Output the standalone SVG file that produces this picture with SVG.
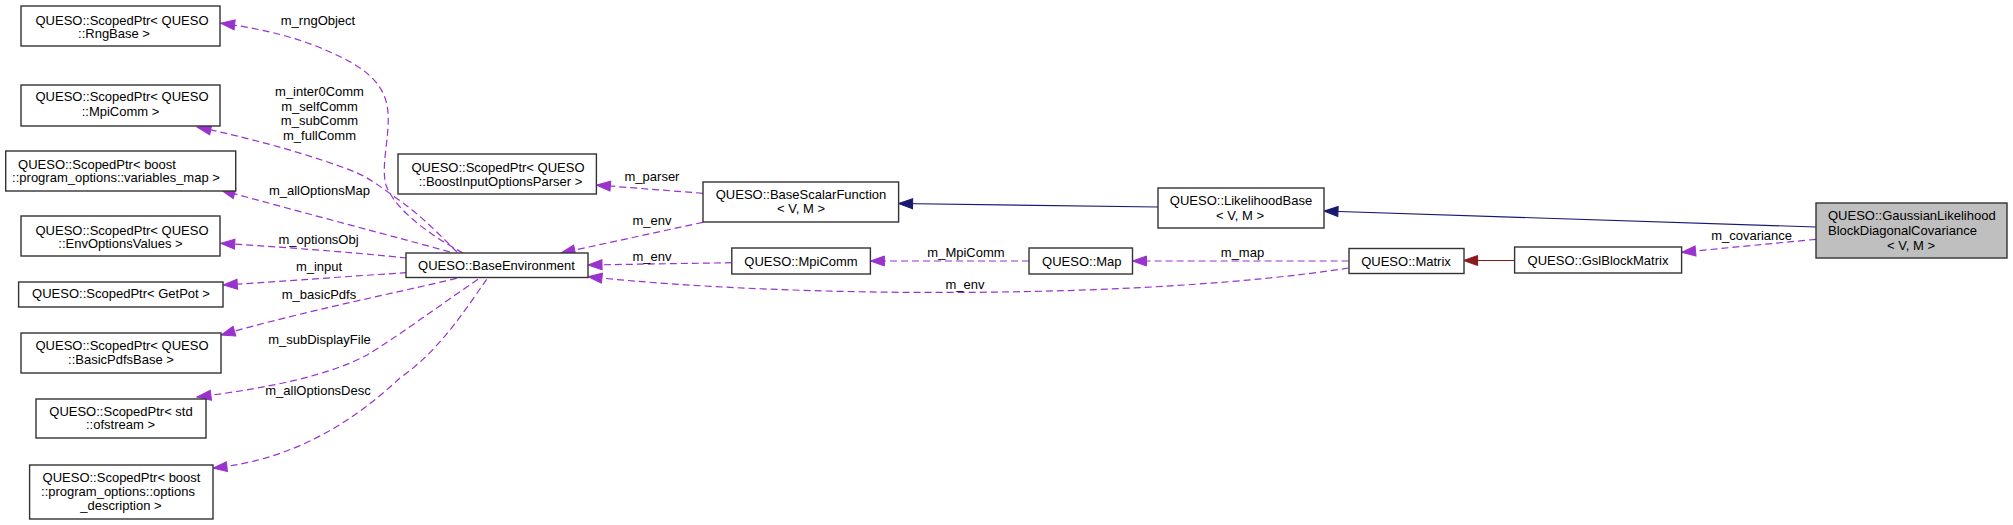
<svg xmlns="http://www.w3.org/2000/svg" width="2013" height="525" viewBox="0 0 2013 525">
<style>
.n rect{fill:#fff;stroke:#333;stroke-width:1.4}
.n rect.focus{fill:#bfbfbf}
text{font-family:"Liberation Sans",Arial,Helvetica,sans-serif;font-size:13px;fill:#000}
.m{text-anchor:middle}
.use{fill:none;stroke:#9a32cd;stroke-width:1.2;stroke-dasharray:7,4}
.pub{fill:none;stroke:#191970;stroke-width:1.2}
.pro{fill:none;stroke:#8b1a1a;stroke-width:1.2}
</style>
<defs>
<marker id="ap" markerWidth="14" markerHeight="10" refX="14" refY="5" orient="auto" markerUnits="userSpaceOnUse" overflow="visible"><path d="M0,0 L14,5 L0,10 z" fill="#9a32cd" stroke="#9a32cd" stroke-width="1"/></marker>
<marker id="ab" markerWidth="14" markerHeight="10" refX="14" refY="5" orient="auto" markerUnits="userSpaceOnUse" overflow="visible"><path d="M0,0 L14,5 L0,10 z" fill="#191970" stroke="#191970" stroke-width="1"/></marker>
<marker id="ar" markerWidth="14" markerHeight="10" refX="14" refY="5" orient="auto" markerUnits="userSpaceOnUse" overflow="visible"><path d="M0,0 L14,5 L0,10 z" fill="#8b1a1a" stroke="#8b1a1a" stroke-width="1"/></marker>
</defs>
<rect x="0" y="0" width="2013" height="525" fill="#fff"/>

<g id="connectors">
<path class="pub" d="M1816,227 L1324,211" marker-end="url(#ab)"/>
<path class="pub" d="M1158,207 L898.6,203.5" marker-end="url(#ab)"/>
<path class="pro" d="M1514.6,260.5 L1463.6,260.5" marker-end="url(#ar)"/>
<path class="use" d="M1816,239.3 L1681.6,252.3" marker-end="url(#ap)"/>
<path class="use" d="M1348.6,261 L1132.5,261" marker-end="url(#ap)"/>
<path class="use" d="M1029,261 L870.4,261" marker-end="url(#ap)"/>
<path class="use" d="M731.8,262.7 L588,265" marker-end="url(#ap)"/>
<path class="use" d="M1348.6,268 C1150,299 800,299 588,276.7" marker-end="url(#ap)"/>
<path class="use" d="M703,222.3 L561,253" marker-end="url(#ap)"/>
<path class="use" d="M703,193.3 L596.4,185" marker-end="url(#ap)"/>
<path class="use" d="M463,253 C430,235 395,210 386,185 C380,165 392,130 387,105 C382,80 360,65 330,52 C300,38 260,28 220.7,23.3" marker-end="url(#ap)"/>
<path class="use" d="M457,252 C440,235 420,215 403,203 C385,190 370,178 355,172 C320,158 260,140 197,127" marker-end="url(#ap)"/>
<path class="use" d="M450,252 C400,238 300,212 221,190" marker-end="url(#ap)"/>
<path class="use" d="M406.7,258 C350,252 280,247 220.7,243.3" marker-end="url(#ap)"/>
<path class="use" d="M406.7,272.7 C350,276 290,281 223.3,285" marker-end="url(#ap)"/>
<path class="use" d="M456.7,278.3 C400,292 300,312 221,335" marker-end="url(#ap)"/>
<path class="use" d="M478,279.3 C440,305 400,335 367,355 C330,375 270,388 197,397" marker-end="url(#ap)"/>
<path class="use" d="M486.7,279.3 C465,310 440,350 400,378 C355,420 295,460 213,468" marker-end="url(#ap)"/>
<text class="m" x="318" y="24.5">m_rngObject</text>
<text class="m" x="319.5" y="96.2">m_inter0Comm</text>
<text class="m" x="319.5" y="111">m_selfComm</text>
<text class="m" x="319.5" y="125.3">m_subComm</text>
<text class="m" x="319.5" y="140">m_fullComm</text>
<text class="m" x="319.5" y="195.2">m_allOptionsMap</text>
<text class="m" x="318.5" y="243.5">m_optionsObj</text>
<text class="m" x="319" y="271.2">m_input</text>
<text class="m" x="319" y="298.8">m_basicPdfs</text>
<text class="m" x="319.5" y="343.5">m_subDisplayFile</text>
<text class="m" x="318" y="395.2">m_allOptionsDesc</text>
<text class="m" x="652" y="181.2">m_parser</text>
<text class="m" x="652" y="224.5">m_env</text>
<text class="m" x="652" y="261.2">m_env</text>
<text class="m" x="966" y="257.2">m_MpiComm</text>
<text class="m" x="1242.5" y="257.2">m_map</text>
<text class="m" x="965" y="288.5">m_env</text>
<text class="m" x="1751.6" y="239.5">m_covariance</text>
</g>

<g id="n_rng" class="n"><rect x="21" y="6" width="199" height="40"/><text class="m" x="122" y="24.5">QUESO::ScopedPtr&lt; QUESO</text><text class="m" x="114" y="38">::RngBase &gt;</text></g>
<g id="n_mpiptr" class="n"><rect x="21" y="85" width="199" height="41"/><text class="m" x="122" y="101.2">QUESO::ScopedPtr&lt; QUESO</text><text class="m" x="120.5" y="116.2">::MpiComm &gt;</text></g>
<g id="n_varmap" class="n"><rect x="5.7" y="151" width="230" height="40"/><text class="m" x="97" y="168.5">QUESO::ScopedPtr&lt; boost</text><text class="m" x="116" y="181.5">::program_options::variables_map &gt;</text></g>
<g id="n_envopt" class="n"><rect x="21" y="216" width="199" height="40"/><text class="m" x="122" y="234.5">QUESO::ScopedPtr&lt; QUESO</text><text class="m" x="120.5" y="247.5">::EnvOptionsValues &gt;</text></g>
<g id="n_getpot" class="n"><rect x="18.6" y="282" width="204.4" height="25"/><text class="m" x="121" y="297.5">QUESO::ScopedPtr&lt; GetPot &gt;</text></g>
<g id="n_pdfs" class="n"><rect x="21" y="333" width="200" height="40"/><text class="m" x="122" y="349.5">QUESO::ScopedPtr&lt; QUESO</text><text class="m" x="121" y="363.5">::BasicPdfsBase &gt;</text></g>
<g id="n_ofs" class="n"><rect x="36" y="399" width="170" height="39"/><text class="m" x="121" y="415.5">QUESO::ScopedPtr&lt; std</text><text class="m" x="120.5" y="428.5">::ofstream &gt;</text></g>
<g id="n_optdesc" class="n"><rect x="29.6" y="465" width="183.4" height="54"/><text class="m" x="121.5" y="481.5">QUESO::ScopedPtr&lt; boost</text><text class="m" x="118" y="495.5">::program_options::options</text><text class="m" x="121" y="509.5">_description &gt;</text></g>
<g id="n_env" class="n"><rect x="406" y="253" width="182" height="24.5"/><text class="m" x="496.5" y="269.5">QUESO::BaseEnvironment</text></g>
<g id="n_parser" class="n"><rect x="398" y="154" width="198.4" height="40"/><text class="m" x="498" y="171.5">QUESO::ScopedPtr&lt; QUESO</text><text class="m" x="500.5" y="185.5">::BoostInputOptionsParser &gt;</text></g>
<g id="n_bsf" class="n"><rect x="703" y="182" width="195.6" height="40"/><text class="m" x="801" y="198.5">QUESO::BaseScalarFunction</text><text class="m" x="801" y="212.5">&lt; V, M &gt;</text></g>
<g id="n_mpicomm" class="n"><rect x="731.8" y="248" width="138.6" height="26"/><text class="m" x="801" y="265.5">QUESO::MpiComm</text></g>
<g id="n_lb" class="n"><rect x="1158" y="188" width="166" height="40"/><text class="m" x="1241" y="204.5">QUESO::LikelihoodBase</text><text class="m" x="1240" y="219.5">&lt; V, M &gt;</text></g>
<g id="n_map" class="n"><rect x="1029" y="248" width="103.5" height="26"/><text class="m" x="1081.8" y="265.5">QUESO::Map</text></g>
<g id="n_matrix" class="n"><rect x="1349" y="248.5" width="115" height="25"/><text class="m" x="1406" y="265.5">QUESO::Matrix</text></g>
<g id="n_gsl" class="n"><rect x="1514.6" y="247" width="167" height="26"/><text class="m" x="1598" y="264.5">QUESO::GslBlockMatrix</text></g>
<g id="n_gauss" class="n"><rect class="focus" x="1816" y="203" width="191" height="55"/><text x="1828" y="219.5">QUESO::GaussianLikelihood</text><text x="1828" y="234.5">BlockDiagonalCovariance</text><text class="m" x="1911" y="249.5">&lt; V, M &gt;</text></g>
</svg>
